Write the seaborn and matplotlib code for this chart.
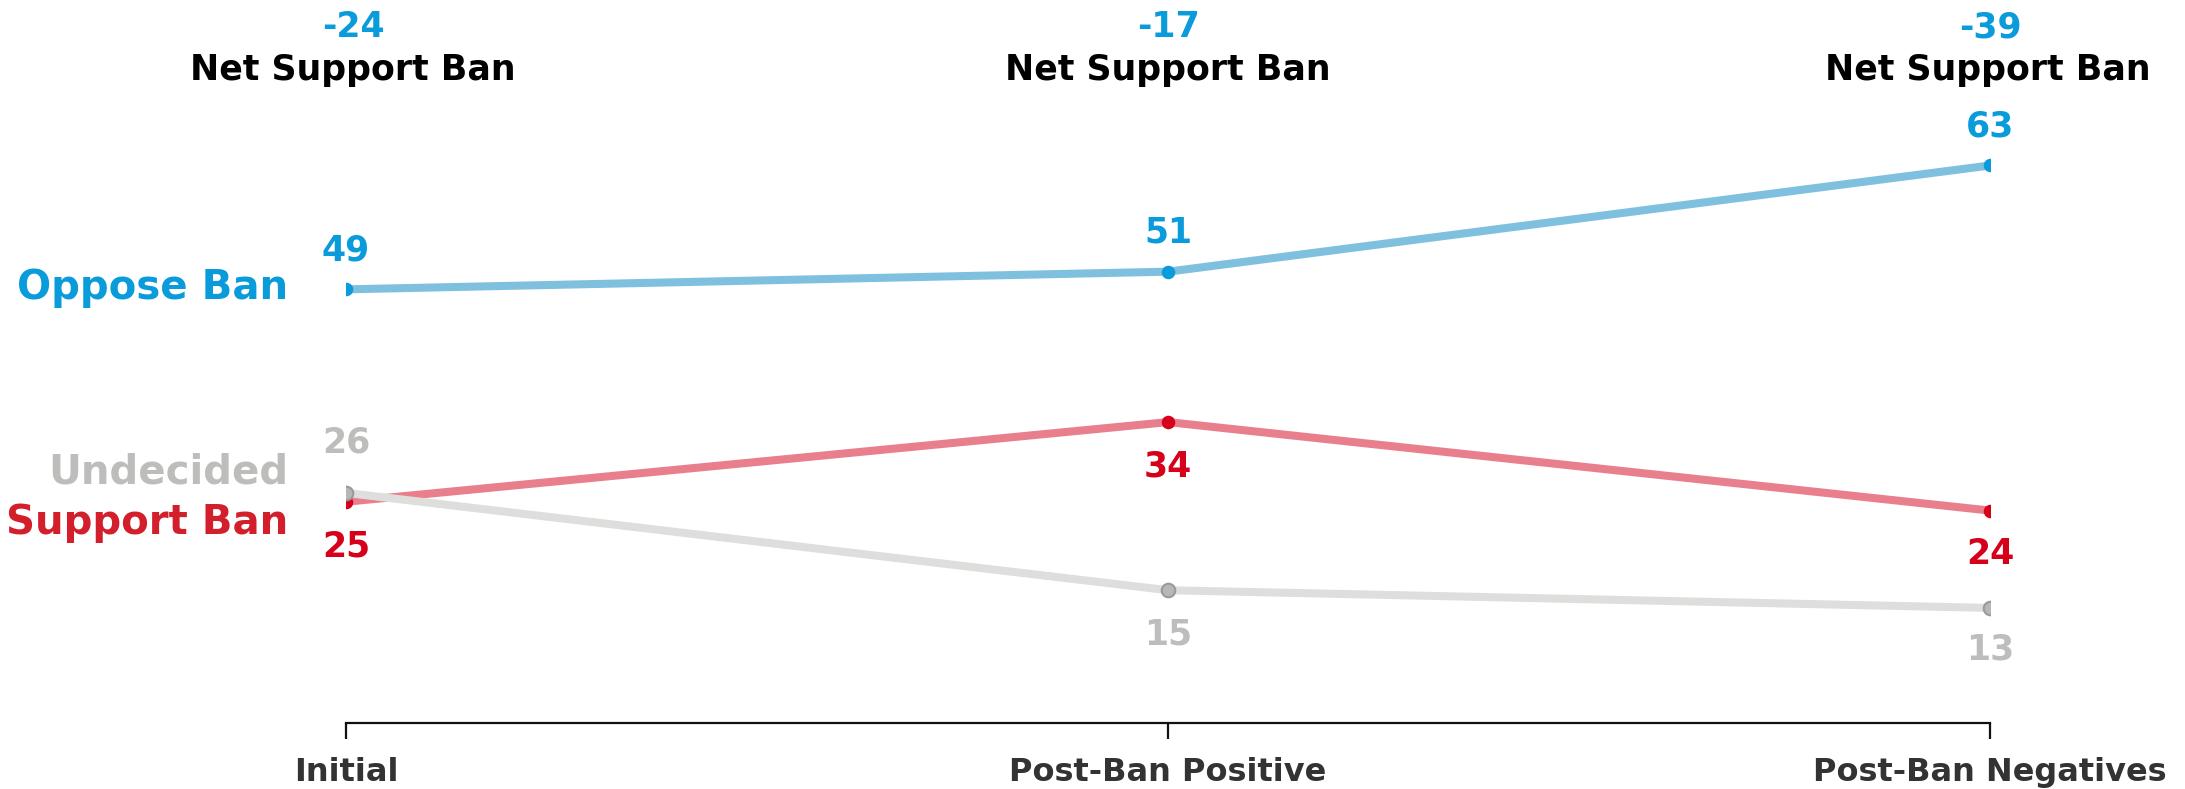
import matplotlib
matplotlib.use("Agg")
import matplotlib.pyplot as plt
import matplotlib.transforms as mtransforms
import seaborn as sns
import pandas as pd

# Survey waves and results (%)
stages = ["Initial", "Post-Ban Positive", "Post-Ban Negatives"]
oppose = [49, 51, 63]
support = [25, 34, 24]
undecided = [26, 15, 13]
net_support = [-24, -17, -39]

series_names = ["Oppose Ban", "Support Ban", "Undecided"]
line_colors = {"Oppose Ban": "#80C0DF", "Support Ban": "#E97F8D", "Undecided": "#DEDEDC"}
dot_colors = {"Oppose Ban": "#0A9BDB", "Support Ban": "#D7001A", "Undecided": "#B7B7B7"}
text_colors = {"Oppose Ban": "#0A9BDB", "Support Ban": "#D7001A", "Undecided": "#BDBDBB"}
name_colors = {"Oppose Ban": "#0A9BDB", "Support Ban": "#D21F2B", "Undecided": "#BDBDBB"}

rows = []
for name, vals in zip(series_names, [oppose, support, undecided]):
    for i, v in enumerate(vals):
        rows.append({"x": i, "stage": stages[i], "value": v, "series": name})
df = pd.DataFrame(rows)

sns.set_theme(style="white")
plt.rcParams["font.family"] = ["DejaVu Sans"]
plt.rcParams["font.weight"] = "bold"

fig = plt.figure(figsize=(21.85, 7.89), dpi=100)
ax = fig.add_axes([0.1584, 0.0837, 0.7524, 0.9163])

z = {"Oppose Ban": 2, "Support Ban": 3, "Undecided": 4}
for name in series_names:
    sub = df[df["series"] == name]
    sns.lineplot(data=sub, x="x", y="value", color=line_colors[name], linewidth=5.8,
                 ax=ax, zorder=z[name], solid_capstyle="butt", legend=False)
    sns.scatterplot(data=sub, x="x", y="value", color=dot_colors[name], s=95,
                    edgecolor="#9A9A9A" if name == "Undecided" else dot_colors[name],
                    linewidth=1.5 if name == "Undecided" else 0,
                    ax=ax, zorder=z[name] + 5, legend=False)

ax.set_xlim(0, 2)
ax.set_ylim(0, 81.7)
ax.set_xticks(range(len(stages)))
ax.set_xticklabels(stages, fontsize=23, fontweight="bold", color="#333333")
ax.set_yticks([])
ax.set_xlabel("")
ax.set_ylabel("")
for side in ["top", "right", "left"]:
    ax.spines[side].set_visible(False)
ax.spines["bottom"].set_color("#111111")
ax.spines["bottom"].set_linewidth(1.6)
ax.tick_params(axis="x", direction="out", length=11.5, width=1.6, color="#111111", pad=13, bottom=True)

# Value labels on points
offsets = {"Oppose Ban": [28, 28, 28], "Support Ban": [-32, -32, -31], "Undecided": [36, -32, -30]}
for name, vals in zip(series_names, [oppose, support, undecided]):
    for i, v in enumerate(vals):
        ax.annotate(str(v), (i, v), xytext=(0, offsets[name][i]), textcoords="offset points",
                    ha="center", va="center", fontsize=25, fontweight="bold",
                    color=text_colors[name], zorder=20)

# Net support headers
blend = mtransforms.blended_transform_factory(ax.transData, ax.transAxes)
header_shift = [5, 0, -2]
for i, n in enumerate(net_support):
    ax.annotate(str(n), (i, 0.962), xycoords=blend, xytext=(header_shift[i] if i == 0 else 0, 0),
                textcoords="offset points", ha="center", va="center",
                fontsize=25, fontweight="bold", color="#0A9BDB", annotation_clip=False)
    ax.annotate("Net Support Ban", (i, 0.903), xycoords=blend, xytext=(header_shift[i], 0),
                textcoords="offset points", ha="center", va="center",
                fontsize=25, fontweight="bold", color="#000000", annotation_clip=False)

# Series names on the left
name_pos = {"Oppose Ban": 288, "Undecided": 472, "Support Ban": 523}
for name, ypx in name_pos.items():
    fig.text(288 / 2185, 1 - ypx / 789, name, ha="right", va="center",
             fontsize=29, fontweight="bold", color=name_colors[name])

fig.savefig("out.png", dpi=100)
